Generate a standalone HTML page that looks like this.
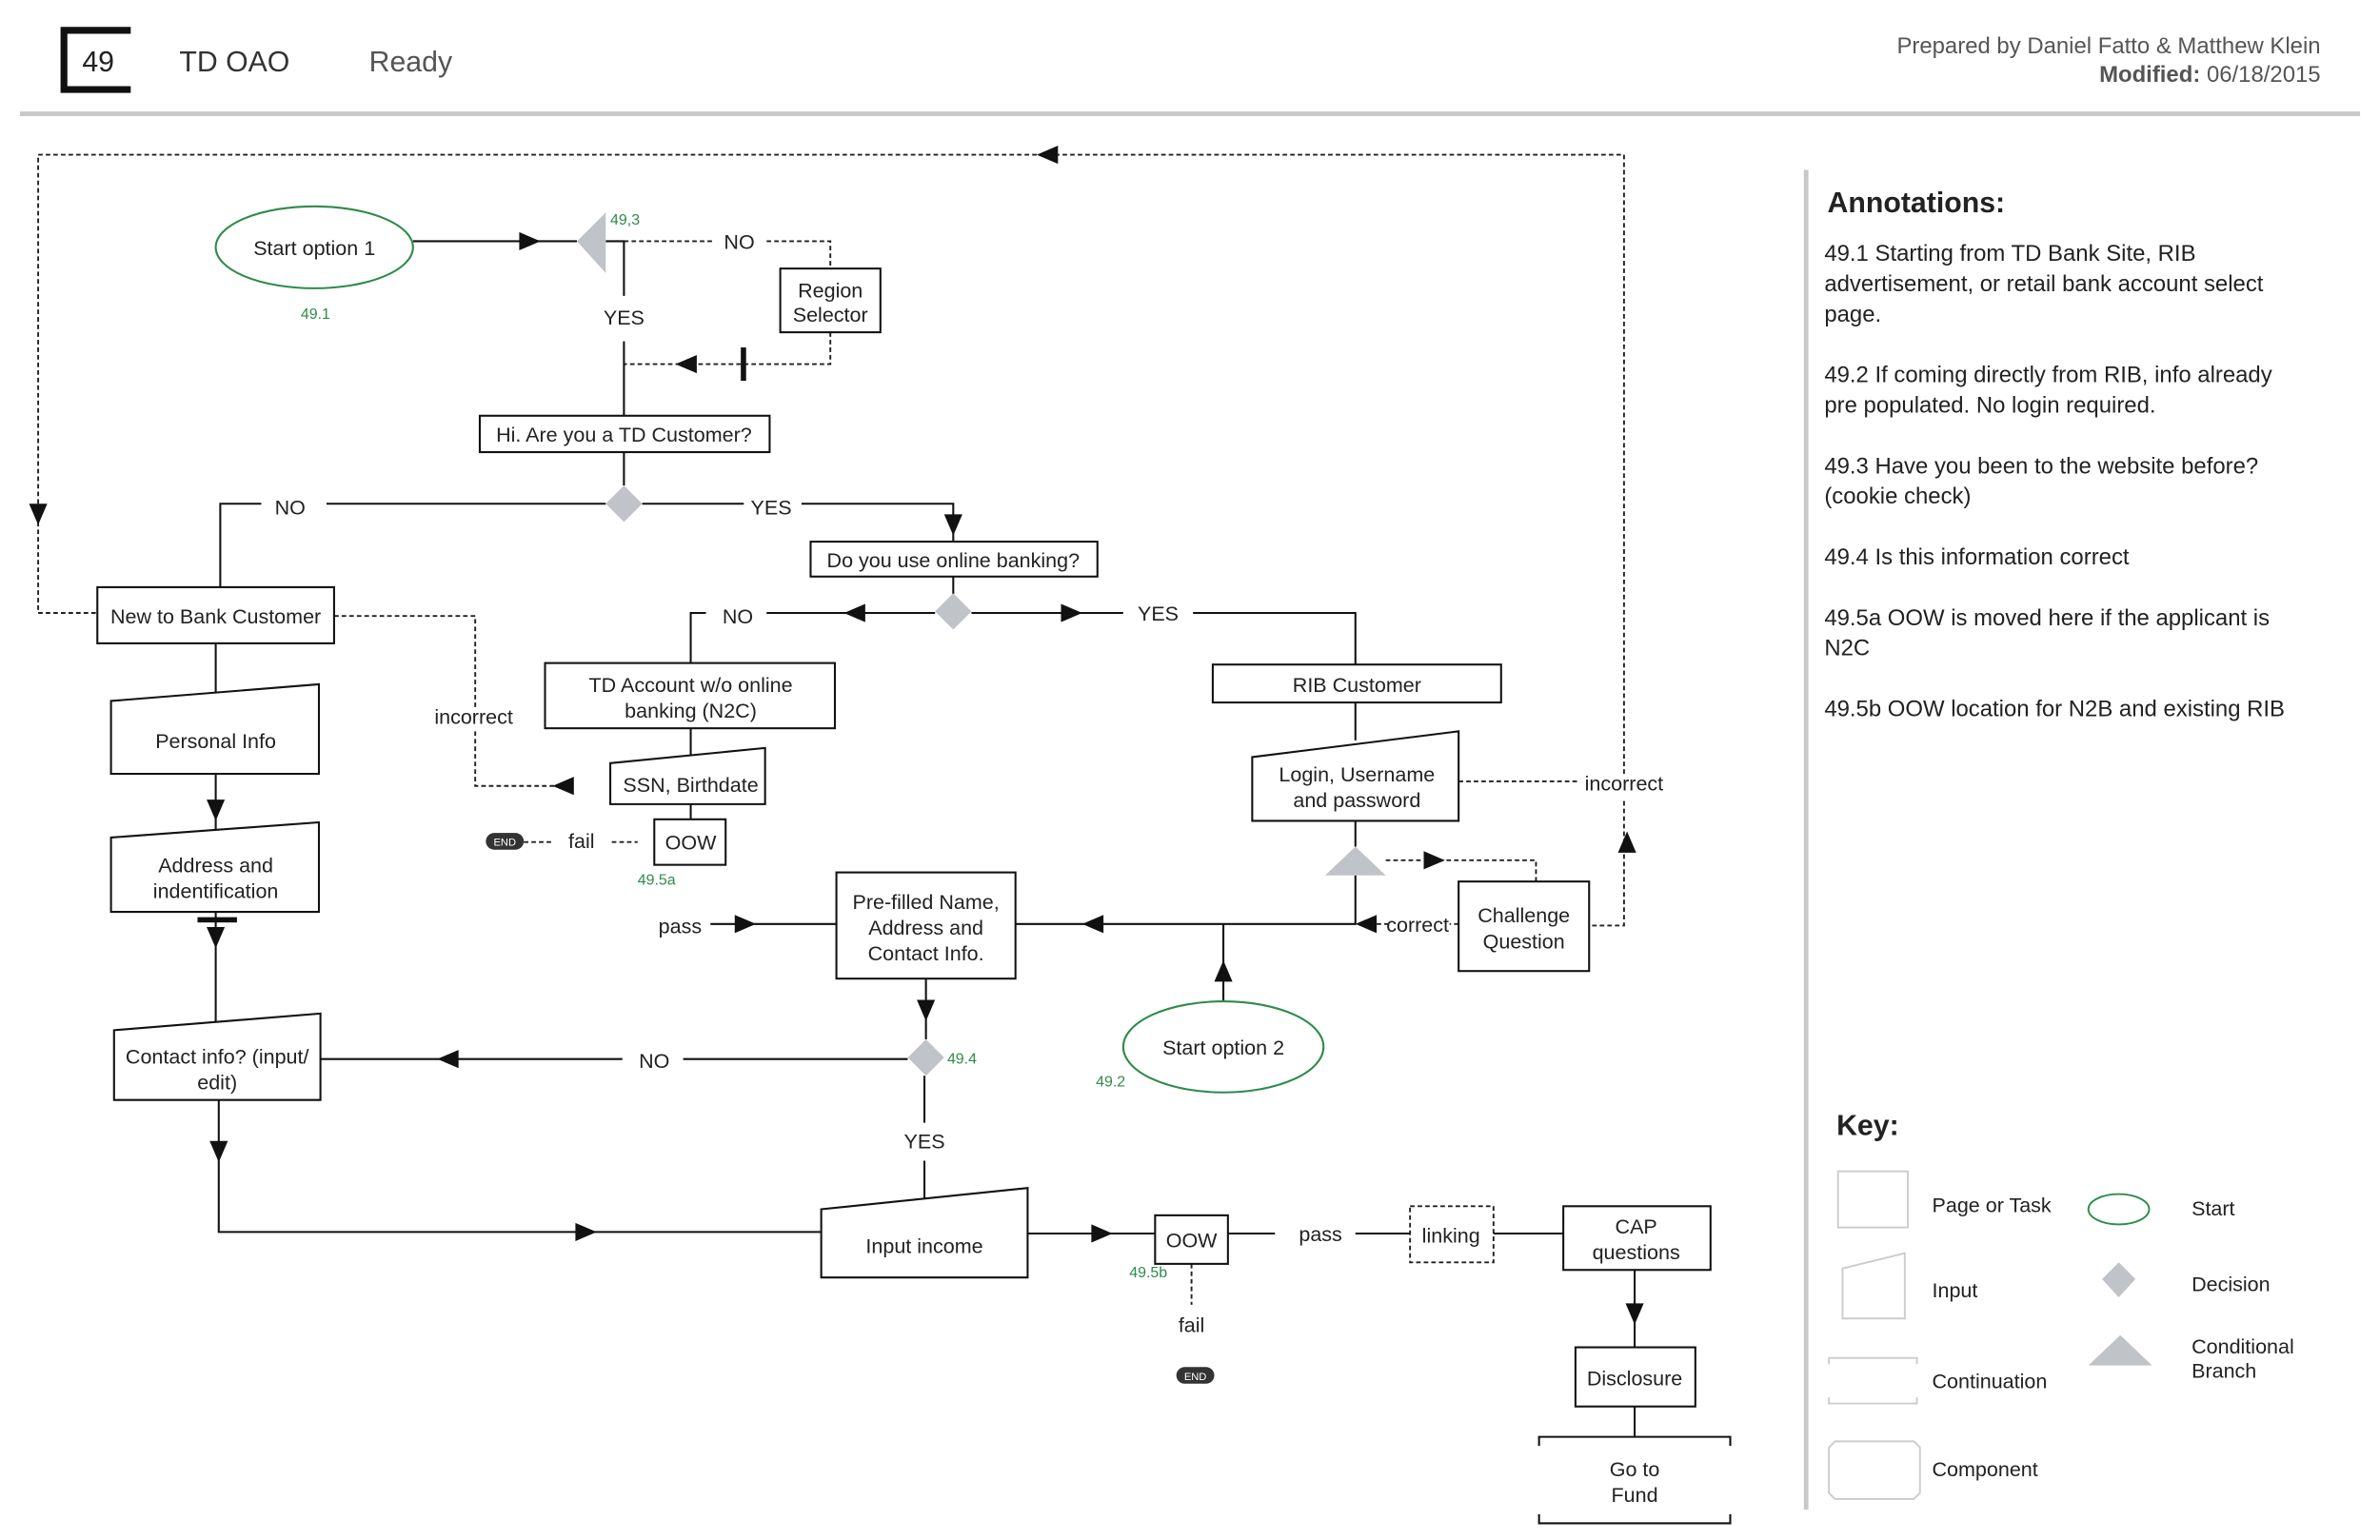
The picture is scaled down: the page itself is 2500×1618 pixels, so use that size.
<!DOCTYPE html>
<html><head><meta charset="utf-8"><style>
html,body{margin:0;padding:0;background:#fff;}
svg{display:block;}
text{font-family:"Liberation Sans",sans-serif;fill:#222;}
.t{font-size:13.5px;text-anchor:middle;}
.g{fill:#2e8b4a;font-size:10px;}
.a{font-size:15px;fill:#222;}
.k{font-size:13.5px;}
</style></head><body>
<svg width="2500" height="1618" viewBox="0 0 1568 1015" xmlns="http://www.w3.org/2000/svg">
<g fill="none" stroke="#111" stroke-width="4.5">
<path d="M86 20H42V59H86"/>
</g>
<text x="54" y="47" style="font-size:19px">49</text>
<text x="118" y="47" style="font-size:19px;fill:#333">TD OAO</text>
<text x="243" y="47" style="font-size:19px;fill:#555">Ready</text>
<text x="1529" y="35" style="font-size:15px;fill:#555;text-anchor:end">Prepared by Daniel Fatto &amp; Matthew Klein</text>
<text x="1529" y="54" style="font-size:15px;fill:#555;text-anchor:end"><tspan font-weight="bold">Modified:</tspan> 06/18/2015</text>
<line x1="13" y1="75" x2="1555" y2="75" stroke="#c8c8c8" stroke-width="3"/>
<line x1="1190" y1="112" x2="1190" y2="995" stroke="#c8c8c8" stroke-width="3"/>

<text x="1204" y="140" style="font-size:19px;font-weight:bold;fill:#222">Annotations:</text>
<text class="a" x="1202" y="172">49.1  Starting from TD Bank Site, RIB</text>
<text class="a" x="1202" y="192">advertisement, or retail bank account select</text>
<text class="a" x="1202" y="212">page.</text>
<text class="a" x="1202" y="252">49.2  If coming directly from RIB, info already</text>
<text class="a" x="1202" y="272">pre populated.  No login required.</text>
<text class="a" x="1202" y="312">49.3 Have you been to the website before?</text>
<text class="a" x="1202" y="332">(cookie check)</text>
<text class="a" x="1202" y="372">49.4 Is this information correct</text>
<text class="a" x="1202" y="412">49.5a  OOW is moved here if the applicant is</text>
<text class="a" x="1202" y="432">N2C</text>
<text class="a" x="1202" y="472">49.5b OOW location for N2B and existing RIB</text>

<text x="1210" y="748" style="font-size:19px;font-weight:bold">Key:</text>
<g fill="none" stroke="#ccc" stroke-width="1.2">
<rect x="1211" y="772" width="46" height="37"/>
<path d="M1214 836L1255 826V869H1214Z"/>
<path d="M1205 899V895H1263V899M1205 921V925H1263V921"/>
<path d="M1209 950H1261L1265 954V984L1261 988H1209L1205 984V954Z"/>
</g>
<text class="k" x="1273" y="799">Page or Task</text>
<text class="k" x="1273" y="855">Input</text>
<text class="k" x="1273" y="915">Continuation</text>
<text class="k" x="1273" y="973">Component</text>
<ellipse cx="1396" cy="797" rx="20" ry="10" fill="none" stroke="#2e8b4a" stroke-width="1.2"/>
<path d="M1396 832L1407 843L1396 855L1385 843Z" fill="#c0c3c8"/>
<path d="M1376 900L1397 880L1418 900Z" fill="#c0c3c8"/>
<text class="k" x="1444" y="801">Start</text>
<text class="k" x="1444" y="851">Decision</text>
<text class="k" x="1444" y="892">Conditional</text>
<text class="k" x="1444" y="908">Branch</text>

<g fill="none" stroke="#222" stroke-width="1.2" stroke-dasharray="3,2">
<path d="M1070 510V102H25V404H64"/>
<path d="M1070 528V610H1047"/>
<path d="M411 159H470M505 159H547V177"/>
<path d="M547 219V240H411"/>
<path d="M220 406H313V466M313 482V518H372"/>
<path d="M961 515H1040"/>
<path d="M913 567H1012V581"/>
<path d="M961 609H955M915 609H900"/>
<path d="M345 555H365M403 555H420"/>
<path d="M785 833V860"/>
<rect x="929" y="795" width="55" height="37"/>
</g>
<g fill="#111">
<path d="M697 96V108L683 102Z"/>
<path d="M19 332H31L25 346Z"/>
<path d="M459 234V246L445 240Z"/>
<rect x="488" y="229" width="3.5" height="22"/>
<path d="M378 512V524L364 518Z"/>
<path d="M938 561V573L952 567Z"/>
<path d="M907 603V615L893 609Z"/>
<path d="M1066 562H1078L1072 548Z"/>
</g>

<g fill="none" stroke="#111" stroke-width="1.3">
<path d="M272 159H380M399 159H411V195M411 225V274"/>
<path d="M411 298V320M399 332H215M172 332H145V387M423 332H490M528 332H628V357"/>
<path d="M628 380V392M616 404H505M465 404H455V437M640 404H740M786 404H893V438"/>
<path d="M455 480V500M455 530V540"/>
<path d="M468 609H551M669 609H893V577M893 558V541M893 463V488"/>
<path d="M806 660V609"/>
<path d="M610 645V685M598 698H450M410 698H211M609 709V740M609 765V795"/>
<path d="M142 424V462M142 510V552M142 601V679M144 725V812H541"/>
<path d="M677 813H761M809 813H840M893 813H929M984 813H1030"/>
<path d="M1077 837V888M1077 927V947"/>
</g>
<g fill="#111">
<path d="M342 153V165L356 159Z"/>
<path d="M622 339H634L628 353Z"/>
<path d="M570 398V410L556 404Z"/>
<path d="M699 398V410L713 404Z"/>
<path d="M484 603V615L498 609Z"/>
<path d="M727 603V615L713 609Z"/>
<path d="M800 647H812L806 633Z"/>
<path d="M604 659H616L610 673Z"/>
<path d="M302 692V704L288 698Z"/>
<path d="M136 527H148L142 541Z"/>
<rect x="130" y="604.5" width="26" height="3.5"/>
<path d="M136 611H148L142 625Z"/>
<path d="M138 752H150L144 766Z"/>
<path d="M379 806V818L393 812Z"/>
<path d="M719 807V819L733 813Z"/>
<path d="M1071 859H1083L1077 873Z"/>
</g>

<ellipse cx="207" cy="163" rx="65" ry="27" fill="#fff" stroke="#2e8b4a" stroke-width="1.3"/>
<text class="t" x="207" y="168">Start option 1</text>
<text class="g" x="198" y="210">49.1</text>
<path d="M380 159L399 140V180Z" fill="#c0c3c8"/>
<text class="g" x="402" y="148">49,3</text>
<text class="t" x="487" y="164">NO</text>
<text class="t" x="411" y="214">YES</text>
<g fill="#fff" stroke="#111" stroke-width="1.3">
<rect x="514" y="177" width="66" height="42"/>
<rect x="316" y="274" width="191" height="24"/>
<rect x="534" y="357" width="189" height="23"/>
<rect x="64" y="387" width="156" height="37"/>
<rect x="359" y="437" width="191" height="43"/>
<rect x="799" y="438" width="190" height="25"/>
<path d="M402 503L504 493V530H402Z"/>
<path d="M825 499L961 482V541H825Z"/>
<path d="M73 462L210 451V510H73Z"/>
<path d="M73 552L210 542V601H73Z"/>
<path d="M75 679L211 668V725H75Z"/>
<rect x="431" y="540" width="47" height="30"/>
<rect x="551" y="575" width="118" height="70"/>
<rect x="961" y="581" width="86" height="59"/>
<path d="M541 797L677 783V842H541Z"/>
<rect x="761" y="801" width="48" height="32"/>
<rect x="1030" y="795" width="97" height="42"/>
<rect x="1038" y="888" width="79" height="39"/>
</g>
<path d="M1014 953V947H1140V953M1014 998V1004H1140V998" fill="none" stroke="#111" stroke-width="1.3"/>
<path d="M411 320L423 332L411 344L399 332Z" fill="#c0c3c8"/>
<path d="M628 391L640 403L628 415L616 403Z" fill="#c0c3c8"/>
<path d="M610 685L622 697L610 709L598 697Z" fill="#c0c3c8"/>
<path d="M873 577L893 558L913 577Z" fill="#c0c3c8"/>
<ellipse cx="806" cy="690" rx="66" ry="30" fill="#fff" stroke="#2e8b4a" stroke-width="1.3"/>

<text class="t" x="547" y="196">Region</text>
<text class="t" x="547" y="212">Selector</text>
<text class="t" x="411" y="291">Hi. Are you a TD Customer?</text>
<text class="t" x="191" y="339">NO</text>
<text class="t" x="508" y="339">YES</text>
<text class="t" x="628" y="374">Do you use online banking?</text>
<text class="t" x="486" y="411">NO</text>
<text class="t" x="763" y="409">YES</text>
<text class="t" x="142" y="411">New to Bank Customer</text>
<text class="t" x="455" y="456">TD Account w/o online</text>
<text class="t" x="455" y="473">banking (N2C)</text>
<text class="t" x="894" y="456">RIB Customer</text>
<text class="t" x="312" y="477">incorrect</text>
<text class="t" x="455" y="522">SSN, Birthdate</text>
<text class="t" x="894" y="515">Login, Username</text>
<text class="t" x="894" y="532">and password</text>
<text class="t" x="1070" y="521">incorrect</text>
<text class="t" x="142" y="493">Personal Info</text>
<text class="t" x="142" y="575">Address and</text>
<text class="t" x="142" y="592">indentification</text>
<rect x="320" y="549" width="25" height="11" rx="5.5" fill="#333"/>
<text x="332.5" y="557.5" style="font-size:7px;fill:#fff;text-anchor:middle">END</text>
<text class="t" x="383" y="559">fail</text>
<text class="t" x="455" y="560">OOW</text>
<text class="g" x="420" y="583">49.5a</text>
<text class="t" x="448" y="615">pass</text>
<text class="t" x="610" y="599">Pre-filled Name,</text>
<text class="t" x="610" y="616">Address and</text>
<text class="t" x="610" y="633">Contact Info.</text>
<text class="t" x="934" y="614">correct</text>
<text class="t" x="1004" y="608">Challenge</text>
<text class="t" x="1004" y="625">Question</text>
<text class="t" x="806" y="695">Start option 2</text>
<text class="g" x="722" y="716">49.2</text>
<text class="g" x="624" y="701">49.4</text>
<text class="t" x="431" y="704">NO</text>
<text class="t" x="143" y="701">Contact info? (input/</text>
<text class="t" x="143" y="718">edit)</text>
<text class="t" x="609" y="757">YES</text>
<text class="t" x="609" y="826">Input income</text>
<text class="t" x="785" y="822">OOW</text>
<text class="g" x="744" y="842">49.5b</text>
<text class="t" x="870" y="818">pass</text>
<text class="t" x="956" y="819">linking</text>
<text class="t" x="1078" y="813">CAP</text>
<text class="t" x="1078" y="830">questions</text>
<text class="t" x="785" y="878">fail</text>
<rect x="775" y="901" width="25" height="11" rx="5.5" fill="#333"/>
<text x="787.5" y="909.5" style="font-size:7px;fill:#fff;text-anchor:middle">END</text>
<text class="t" x="1077" y="913">Disclosure</text>
<text class="t" x="1077" y="973">Go to</text>
<text class="t" x="1077" y="990">Fund</text>
</svg>
</body></html>
